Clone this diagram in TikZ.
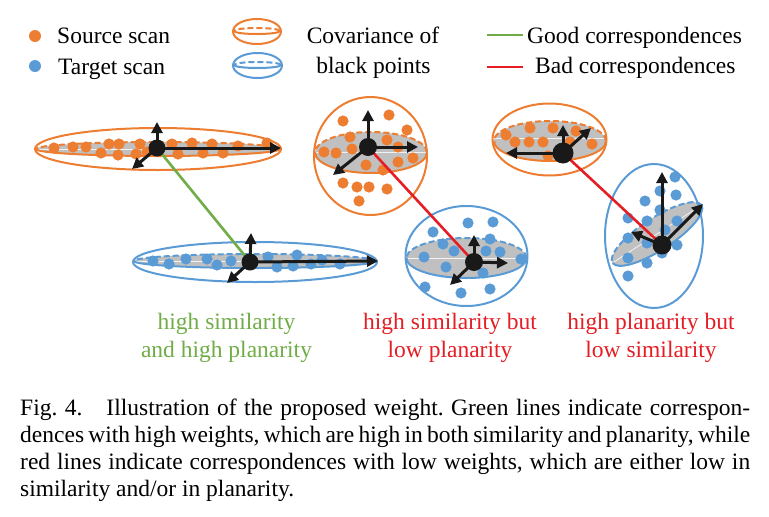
\documentclass[tikz,border=0pt]{standalone}
\usepackage{fontspec}
\setmainfont{Liberation Serif}
\usetikzlibrary{arrows.meta}
\definecolor{srcorange}{HTML}{ED7D31}
\definecolor{tgtblue}{HTML}{5B9BD5}
\definecolor{goodgreen}{HTML}{70AD47}
\definecolor{badred}{RGB}{228,30,36}
\definecolor{diskgray}{RGB}{192,192,192}
\tikzset{
  lbl/.style={font=\fontsize{23.5}{28}\selectfont, inner sep=0pt},
  srcpt/.style={fill=srcorange},
  tgtpt/.style={fill=tgtblue},
  disk/.style={fill=diskgray},
  midline/.style={draw=white!80!diskgray, line width=0.8pt},
  rim/.style={line width=2pt},
  gap/.style={dash pattern=on 6pt off 3pt},
  axis/.style={-{Triangle[length=11pt,width=11pt]}, line width=3pt, black!90},
  centre/.style={fill=black!90},
  good/.style={goodgreen, line width=2.6pt},
  bad/.style={badred, line width=2.6pt},
}
\begin{document}
\frenchspacing
\begin{tikzpicture}[x=1pt,y=-1pt]
  \useasboundingbox (0,0) rectangle (769,517);
  % legend
  \fill[srcpt] (35,36) circle (6);
  \fill[tgtpt] (35,66) circle (6);
  \node[lbl,anchor=base west] (srclbl) at (57,43) {Source scan};
  \node[lbl,anchor=base west] (tgtlbl) at (58,74) {Target scan};
  \draw[srcorange,rim] (257,31.5) ellipse (24 and 12.5);
  \draw[srcorange,rim,gap] (280,31) arc (0:-180:23 and 3);
  \draw[srcorange,rim] (280,31) arc (0:180:23 and 3);
  \draw[tgtblue,rim] (257.5,65.5) ellipse (24.5 and 12.5);
  \draw[tgtblue,rim,gap] (281,65) arc (0:-180:23.5 and 3);
  \draw[tgtblue,rim] (281,65) arc (0:180:23.5 and 3);
  \node[lbl,anchor=base] (covlbl) at (373,43) {Covariance of};
  \node[lbl,anchor=base] (blklbl) at (373.5,73) {black points};
  \draw[good] (487,35) -- (523,35);
  \draw[bad] (487,67) -- (523,67);
  \node[lbl,anchor=base west] (goodlbl) at (527,43) {Good correspondences};
  \node[lbl,anchor=base west] (badlbl) at (535,73) {Bad correspondences};
  % source 1 (flat)
  \fill[disk] (158,149) ellipse (122 and 7);
  \draw[midline] (36,149) -- (280,149);
  \draw[srcorange,rim,gap] (280,149) arc (0:-180:122 and 7);
  \draw[srcorange,rim] (280,149) arc (0:180:122 and 7);
  \foreach \x/\y in {54/148,73/147,86/147,101/153,109/144,119/144,118/155,136/154,140/144,147/152,
                     172/144,178/154,192/143,203/153,212/144,223/153,238/146,267/143}
    \fill[srcpt] (\x,\y) circle (5.6);
  \draw[srcorange,rim] (158,149) ellipse (123 and 21);
  % target 1 (flat)
  \fill[disk] (255,261) ellipse (121 and 7);
  \draw[midline] (134,261) -- (376,261);
  \draw[tgtblue,rim,gap] (376,261) arc (0:-180:121 and 7);
  \draw[tgtblue,rim] (376,261) arc (0:180:121 and 7);
  \foreach \x/\y in {153/261,169/264,186/259,207/259,217/265,231/261,268/257,277/267,293/266,
                     297/255,311/264,322/260,340/264}
    \fill[tgtpt] (\x,\y) circle (5.6);
  \draw[tgtblue,rim] (255,262) ellipse (122 and 20);
  % source 2 (sphere)
  \fill[disk] (371,152.5) ellipse (56 and 20.5);
  \draw[midline] (315,152.5) -- (427,152.5);
  \draw[srcorange,rim,gap] (427,152.5) arc (0:-180:56 and 20.5);
  \draw[srcorange,rim] (427,152.5) arc (0:180:56 and 20.5);
  \foreach \x/\y in {343/121,389/115,407/130,350/137,387/140,324/152,336/153,352/149,398/147,
                     413/158,366/165,383/170,398/162,343/183,357/187,369/187,387/189,359/201}
    \fill[srcpt] (\x,\y) circle (5.6);
  \draw[srcorange,rim] (370.5,156) ellipse (56.5 and 59);
  % target 2 (sphere)
  \fill[disk] (466.5,258) ellipse (60 and 20);
  \draw[midline] (406.5,258) -- (526.5,258);
  \draw[tgtblue,rim,gap] (526.5,258) arc (0:-180:60 and 20);
  \draw[tgtblue,rim] (526.5,258) arc (0:180:60 and 20);
  \foreach \x/\y in {468/223,493/222,433/232,490/239,443/244,454/251,486/251,500/252,424/257,
                     521/259,446/267,483/273,425/287,461/293,490/289}
    \fill[tgtpt] (\x,\y) circle (5.6);
  \draw[tgtblue,rim] (466.5,256) ellipse (61 and 50);
  % source 3 (plane)
  \fill[disk] (550,141) ellipse (56 and 20);
  \draw[midline] (494,138) -- (606,138);
  \draw[srcorange,rim,gap] (606,141) arc (0:-180:56 and 20);
  \draw[srcorange,rim] (606,141) arc (0:180:56 and 20);
  \foreach \x/\y in {506/135,515/142,529/142,543/142,530/128,553/128,576/131,592/144,548/156,570/142}
    \fill[srcpt] (\x,\y) circle (5.6);
  \draw[srcorange,rim] (549.5,139.5) ellipse (57 and 36);
  % target 3 (tilted plane)
  \begin{scope}[shift={(657,234)},rotate=33]
    \fill[disk] (0,0) ellipse (53 and 16);
    \draw[midline] (-53,0) -- (53,0);
    \draw[tgtblue,rim,gap] (53,0) arc (0:-180:53 and 16);
    \draw[tgtblue,rim] (53,0) arc (0:180:53 and 16);
  \end{scope}
  \foreach \x/\y in {675/177,660/191,645/201,676/195,628/218,660/210,677/221,647/221,628/238,
                     665/230,647/243,677/245,662/253,628/258,647/263,628/276}
    \fill[tgtpt] (\x,\y) circle (5.6);
  \draw[tgtblue,rim] (654,236) ellipse (49 and 72);
  % correspondences
  \coordinate (s1) at (157,148);
  \coordinate (t1) at (250,262);
  \coordinate (s2) at (368,147);
  \coordinate (t2) at (474,262);
  \coordinate (s3) at (563,153);
  \coordinate (t3) at (662,245);
  \draw[good] (s1) -- (t1);
  \draw[bad] (s2) -- (t2);
  \draw[bad] (s3) -- (t3);
  % principal axes
  \draw[axis] (s1) -- (157,122);
  \draw[axis] (s1) -- (281,148);
  \draw[axis] (s1) -- (132,169);
  \draw[axis] (t1) -- (251,233);
  \draw[axis] (t1) -- (378,261);
  \draw[axis] (t1) -- (227,283);
  \draw[axis] (s2) -- (368,110);
  \draw[axis] (s2) -- (418,147);
  \draw[axis] (s2) -- (333,175);
  \draw[axis] (t2) -- (474,235);
  \draw[axis] (t2) -- (508,263);
  \draw[axis] (t2) -- (450,285);
  \draw[axis] (s3) -- (563,125);
  \draw[axis] (s3) -- (591,128);
  \draw[axis] (s3) -- (506,153);
  \draw[axis] (t3) -- (662,172);
  \draw[axis] (t3) -- (703,204);
  \draw[axis] (t3) -- (631,232);
  \fill[centre] (s1) circle (8.5);
  \fill[centre] (t1) circle (8.5);
  \fill[centre] (s2) circle (9);
  \fill[centre] (t2) circle (9);
  \fill[centre] (s3) circle (10.5);
  \fill[centre] (t3) circle (9.5);
  % labels
  \node[lbl,goodgreen,anchor=base] (gooda) at (226.5,329) {high similarity};
  \node[lbl,goodgreen,anchor=base] (goodb) at (226.5,357) {and high planarity};
  \node[lbl,badred,anchor=base] (bada) at (450,329) {high similarity but};
  \node[lbl,badred,anchor=base] (badb) at (450,357) {low planarity};
  \node[lbl,badred,anchor=base] (badc) at (651,329) {high planarity but};
  \node[lbl,badred,anchor=base] (badd) at (651,357) {low similarity};
  % caption
  \node[lbl,anchor=base west] (cap1) at (20,415)
    {\makebox[730pt][s]{Fig. 4.\hspace{24pt}Illustration of the proposed weight. Green lines indicate correspon-}};
  \node[lbl,anchor=base west] (cap2) at (20,442)
    {\makebox[730pt][s]{dences with high weights, which are high in both similarity and planarity, while}};
  \node[lbl,anchor=base west] (cap3) at (20,469)
    {\makebox[730pt][s]{red lines indicate correspondences with low weights, which are either low in}};
  \node[lbl,anchor=base west] (cap4) at (20,496) {similarity and/or in planarity.};
\end{tikzpicture}
\end{document}
